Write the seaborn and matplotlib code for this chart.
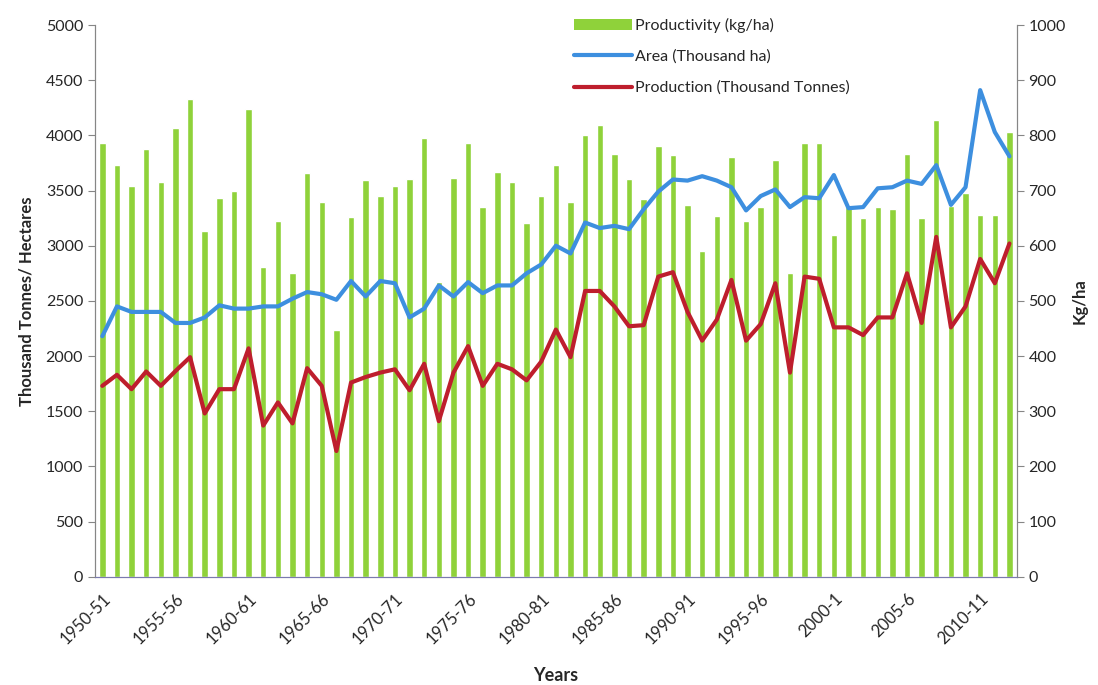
import numpy as np
import pandas as pd
import seaborn as sns
import matplotlib.pyplot as plt
from matplotlib.patches import Patch
from matplotlib.lines import Line2D

# crop years 1950-51 .. 2012-13
start_years = list(range(1950, 2013))
years = [f"{y}-{str(y + 1)[2:]}" if y + 1 < 2000 else f"{y}-{(y + 1) % 100}" for y in start_years]

productivity = [787, 747, 708, 775, 716, 814, 866, 626, 687, 700,
                848, 561, 644, 550, 732, 679, 447, 652, 719, 690,
                708, 720, 796, 535, 723, 787, 671, 733, 716, 642,
                690, 746, 679, 801, 819, 766, 721, 685, 780, 764,
                674, 590, 653, 761, 644, 671, 756, 550, 787, 787,
                619, 670, 650, 671, 666, 766, 650, 827, 672, 695,
                655, 655, 806]

area = [2180, 2450, 2400, 2400, 2400, 2300, 2300, 2350, 2460, 2430,
        2430, 2450, 2450, 2520, 2580, 2560, 2510, 2680, 2540, 2680,
        2660, 2350, 2430, 2640, 2540, 2670, 2570, 2640, 2640, 2750,
        2830, 3000, 2930, 3210, 3160, 3180, 3150, 3330, 3490, 3600,
        3590, 3630, 3590, 3530, 3320, 3450, 3510, 3350, 3440, 3430,
        3640, 3340, 3350, 3520, 3530, 3590, 3560, 3730, 3370, 3530,
        4410, 4030, 3810]

production = [1730, 1830, 1700, 1860, 1730, 1864, 1990, 1480, 1700, 1700,
              2070, 1370, 1580, 1390, 1890, 1730, 1140, 1760, 1810, 1850,
              1880, 1690, 1930, 1410, 1850, 2090, 1730, 1930, 1880, 1780,
              1950, 2240, 1990, 2590, 2590, 2450, 2270, 2280, 2720, 2760,
              2400, 2140, 2330, 2690, 2140, 2290, 2660, 1850, 2720, 2700,
              2260, 2260, 2190, 2350, 2350, 2750, 2300, 3080, 2260, 2450,
              2880, 2660, 3020]

df = pd.DataFrame({"year": years, "pos": np.arange(len(years)),
                   "productivity": productivity, "area": area,
                   "production": production})

green = "#8FD23A"
blue = "#3D8FDF"
red = "#BE1E2D"
axis_grey = "#868686"

sns.set_style("white")
plt.rcParams["font.family"] = ["Lato", "DejaVu Sans"]

fig, ax = plt.subplots(figsize=(10.98, 6.85), dpi=100)
fig.subplots_adjust(left=0.0865, right=0.926, bottom=0.158, top=0.9635)
ax2 = ax.twinx()

# bars on the secondary (kg/ha) axis, lines on the primary axis drawn on top
sns.barplot(data=df, x="pos", y="productivity", ax=ax2, color=green,
            width=0.44, saturation=1, native_scale=True)
sns.lineplot(data=df, x="pos", y="area", ax=ax, color=blue, linewidth=3)
sns.lineplot(data=df, x="pos", y="production", ax=ax, color=red, linewidth=3)
ax.set_zorder(ax2.get_zorder() + 1)
ax.patch.set_visible(False)

ax.set_ylim(0, 5000)
ax.set_yticks(range(0, 5001, 500))
ax2.set_ylim(0, 1000)
ax2.set_yticks(range(0, 1001, 100))
ax.set_xlim(-0.5, len(years) - 0.5)

major = list(range(0, len(years), 5))
ax.set_xticks(major)
ax.set_xticklabels([years[i] for i in major], rotation=45, ha="right",
                   rotation_mode="anchor", fontsize=12)
ax.set_xticks(np.arange(-0.5, len(years)), minor=True)
ax.tick_params(axis="x", which="major", length=0, pad=10)
ax.tick_params(axis="x", which="minor", length=5, color="#7A7AB0", direction="out")
ax.tick_params(axis="y", length=5, color=axis_grey, labelsize=11.5, direction="out")
ax2.tick_params(axis="y", length=5, color=axis_grey, labelsize=11.5, direction="out")

for a in (ax, ax2):
    a.spines["top"].set_visible(False)
    for s in ("left", "right", "bottom"):
        a.spines[s].set_color(axis_grey)
ax.spines["bottom"].set_color("#7A7AB0")
ax2.set_xlabel("")

ax.set_xlabel("Years", fontsize=13, fontweight="bold", labelpad=14)
ax.set_ylabel("Thousand Tonnes/ Hectares", fontsize=12, fontweight="bold", labelpad=8)
ax2.set_ylabel("Kg/ha", fontsize=12, fontweight="bold")

handles = [Patch(facecolor=green, edgecolor="none"),
           Line2D([], [], color=blue, linewidth=3),
           Line2D([], [], color=red, linewidth=3)]
labels = ["Productivity (kg/ha)", "Area (Thousand ha)", "Production (Thousand Tonnes)"]
fig.legend(handles, labels, loc="upper left", bbox_to_anchor=(0.51, 0.995),
           frameon=False, fontsize=11.5, handlelength=3.6, handletextpad=0.2,
           labelspacing=1.05)

fig.savefig("out.png", dpi=100)
